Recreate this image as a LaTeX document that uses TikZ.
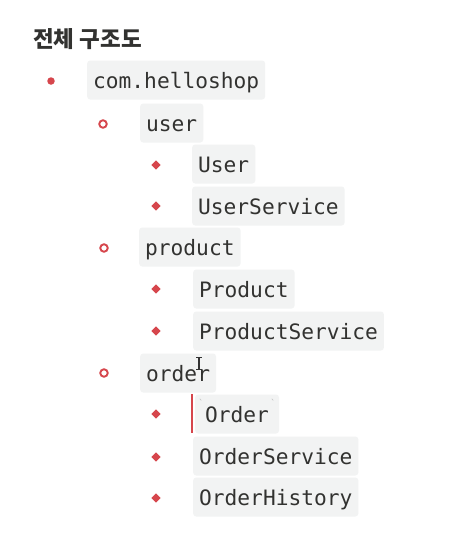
\documentclass[tikz,border=0pt]{standalone}
\usepackage{fontspec}
\newfontfamily\kr{Noto Sans CJK KR}
\newfontfamily\codefont{DejaVu Sans Mono}
\definecolor{bred}{RGB}{214,70,76}
\definecolor{codebg}{RGB}{242,243,243}
\definecolor{ink}{RGB}{50,50,48}
\definecolor{tick}{RGB}{185,185,185}
\tikzset{
  code/.style={fill=codebg, rounded corners=3pt, anchor=west, inner xsep=6pt, inner ysep=0pt,
    minimum height=39pt, text height=19pt, text depth=3pt, text=ink,
    font=\codefont\fontsize{21.2pt}{24pt}\selectfont},
  dotb/.style={circle, fill=bred, inner sep=0pt, minimum size=7.5pt},
  ringb/.style={circle, draw=bred, line width=1.9pt, inner sep=0pt, minimum size=7.5pt},
  diab/.style={fill=bred},
}
\newcommand{\mydia}[3]{\fill[bred] (#2+4.6,#3) -- (#2,#3-4.6) -- (#2-4.6,#3) -- (#2,#3+4.6) -- cycle; \coordinate (#1) at (#2,#3);}
\begin{document}
\begin{tikzpicture}[x=1pt,y=-1pt]
\useasboundingbox[fill=white] (0,0) rectangle (476,542);
% title
\node[anchor=base west, inner sep=0pt, text=ink, font=\kr\bfseries\fontsize{22.5pt}{26pt}\selectfont] (title) at (33,47) {전체 구조도};
% level 1
\node[dotb] (b1) at (51,81) {};
\node[code] (n1) at (87,80) {com.helloshop};
% user
\node[ringb] (b2) at (103,124) {};
\node[code] (n2) at (140,123) {user};
\mydia{d1}{156}{165}
\node[code] (n3) at (192,164) {User};
\mydia{d2}{156}{206}
\node[code] (n4) at (192,206) {UserService};
% product
\node[ringb] (b3) at (104,248) {};
\node[code] (n5) at (139,247) {product};
\mydia{d3}{156}{289}
\node[code] (n6) at (193,289) {Product};
\mydia{d4}{156}{331}
\node[code] (n7) at (193,331) {ProductService};
% order
\node[ringb] (b4) at (104,373) {};
\node[code] (n8) at (140,373) {order};
\mydia{d5}{156}{414}
\node[code, inner xsep=10pt] (n9) at (195,414) {Order};
\node[inner sep=0pt, text=tick, font=\codefont\fontsize{9pt}{10pt}\selectfont] (t1) at (201,403) {\char96};
\node[inner sep=0pt, text=tick, font=\codefont\fontsize{9pt}{10pt}\selectfont] (t2) at (273,403) {\char96};
\coordinate (c1) at (192,394);
\coordinate (c2) at (192,433);
\draw[bred, line width=1.6pt] (c1) -- (c2);
\mydia{d6}{156}{457}
\node[code] (n10) at (193,456) {OrderService};
\mydia{d7}{156}{498}
\node[code] (n11) at (193,497) {OrderHistory};
% text cursor (I-beam)
\coordinate (i1) at (199,357);
\coordinate (i2) at (199,369);
\draw[black!80, line width=1.1pt] (i1) -- (i2);
\draw[black!80, line width=0.9pt] (196,357) -- (202,357) (196,369) -- (202,369);
\end{tikzpicture}
\end{document}
